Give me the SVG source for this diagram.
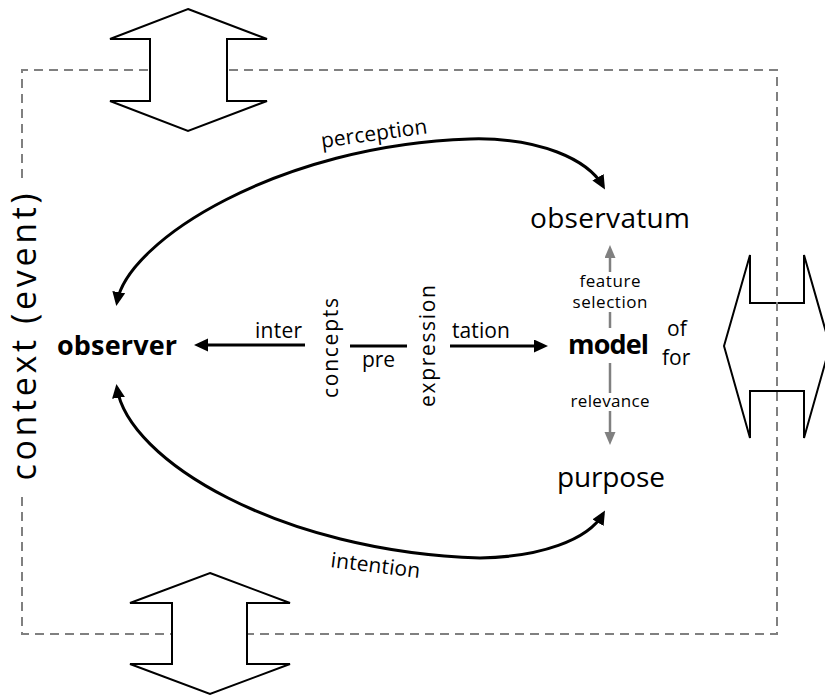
<svg xmlns="http://www.w3.org/2000/svg" width="825" height="696" viewBox="0 0 825 696">
<style>
text{font-family:"Open Sans","Noto Sans","DejaVu Sans",sans-serif;fill:#000}
.big{font-size:28px}
.bold{font-size:27px;font-weight:bold}
.lbl{font-size:21px}
.sm{font-size:17px}
.blk{fill:none;stroke:#000;stroke-width:3}
.gry{fill:none;stroke:#808080;stroke-width:2.5}
.dash{fill:none;stroke:#808080;stroke-width:2;stroke-dasharray:9 6}
.block{fill:#fff;stroke:#000;stroke-width:2;stroke-linejoin:miter}
</style>
<defs>
<marker id="ah" markerUnits="userSpaceOnUse" markerWidth="16" markerHeight="14" refX="10" refY="6.5" orient="auto-start-reverse"><path d="M0,0 L14,6.5 L0,13 z" fill="#000"/></marker>
<marker id="gh" markerUnits="userSpaceOnUse" markerWidth="14" markerHeight="12" refX="8" refY="5.5" orient="auto"><path d="M0,0 L13,5.5 L0,11 z" fill="#808080"/></marker>
</defs>

<g id="context-arrow-right">
<polygon class="block" points="724,346 750,255 750,303 804,303 804,255 830,346 804,438 804,391 750,391 750,438"/>
</g>

<g id="context-frame">
<path class="dash" d="M22,178 V70 H777 V634 H22 V495"/>
<text transform="translate(36,337) rotate(-90)" text-anchor="middle" style="font-size:34px" textLength="287">context (event)</text>
</g>

<g id="context-arrow-top">
<polygon class="block" points="188,9 267,39 227,39 227,101 267,101 188,131 110,101 150,101 150,39 110,39"/>
</g>
<g id="context-arrow-bottom">
<polygon class="block" points="210,573 290,603 247,603 247,664 290,664 210,694 130,664 172,664 172,603 130,603"/>
</g>

<g id="connectors">
<path class="blk" d="M117,302 C128,240 280,145 470,139 C540,137 588,160 603,186" marker-start="url(#ah)" marker-end="url(#ah)"/>
<path class="blk" d="M117,388 C128,460 280,552 480,558 C540,557 588,540 603,514" marker-start="url(#ah)" marker-end="url(#ah)"/>
<path class="blk" d="M305,345 H198" marker-end="url(#ah)"/>
<path class="blk" d="M350,346 H407"/>
<path class="blk" d="M450,346 H544" marker-end="url(#ah)"/>
<path class="gry" d="M610,272 V250" marker-end="url(#gh)"/>
<path class="gry" d="M610,312 V328"/>
<path class="gry" d="M610,363 V393"/>
<path class="gry" d="M610,411 V440" marker-end="url(#gh)"/>
<text class="lbl" transform="translate(322,148) rotate(-8)" textLength="107">perception</text>
<text class="lbl" transform="translate(330,567) rotate(7)" textLength="90">intention</text>
<text class="lbl" x="255" y="338" textLength="47">inter</text>
<text class="lbl" transform="translate(338,348) rotate(-90)" text-anchor="middle" textLength="100">concepts</text>
<text class="lbl" x="362" y="367" textLength="33">pre</text>
<text class="lbl" transform="translate(435,346) rotate(-90)" text-anchor="middle" textLength="122">expression</text>
<text class="lbl" x="452" y="338" textLength="58">tation</text>
<text class="sm" x="610" y="287" text-anchor="middle" textLength="61">feature</text>
<text class="sm" x="610" y="308" text-anchor="middle" textLength="75">selection</text>
<text class="sm" x="610" y="407" text-anchor="middle" textLength="79">relevance</text>
</g>

<g id="observer"><text class="bold" x="57" y="355" textLength="120">observer</text></g>
<g id="model">
<text class="bold" x="568" y="354" textLength="81">model</text>
<text class="lbl" x="667" y="336">of</text>
<text class="lbl" x="662" y="365">for</text>
</g>
<g id="observatum"><text class="big" x="530" y="228" textLength="160">observatum</text></g>
<g id="purpose"><text class="big" x="557" y="487" textLength="108">purpose</text></g>
</svg>
